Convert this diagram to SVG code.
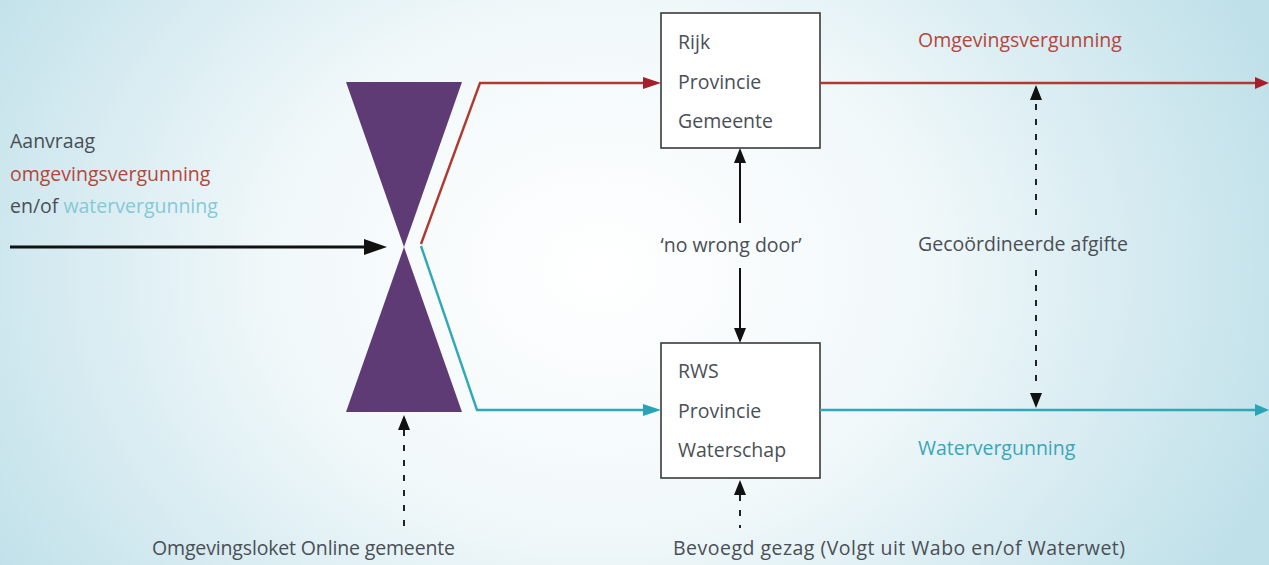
<svg xmlns="http://www.w3.org/2000/svg" width="1269" height="565" viewBox="0 0 1269 565">
  <defs>
    <radialGradient id="bg" cx="600" cy="270" r="720" gradientUnits="userSpaceOnUse" gradientTransform="translate(600 270) scale(1 0.8) translate(-600 -270)">
      <stop offset="0" stop-color="#ffffff"/>
      <stop offset="0.45" stop-color="#f1f8fa"/>
      <stop offset="1" stop-color="#bfe0e9"/>
    </radialGradient>
  </defs>
  <style>
    text { font-family: "Open Sans", "Lato", "DejaVu Sans", sans-serif; font-size: 19.5px; fill: #4a4f55; }
    .box { fill: #ffffff; stroke: #3a3a3a; stroke-width: 1.6; }
    .red { fill: #b4473b; }
    .cyan { fill: #3aa6b6; }
    .lcyan { fill: #86c8d6; }
    .redline { fill: none; stroke: #b03a32; stroke-width: 2.4; }
    .cyanline { fill: none; stroke: #2fa8b8; stroke-width: 2.4; }
    .solid { fill: none; stroke: #111; stroke-width: 2; }
    .dash { fill: none; stroke: #222; stroke-width: 2; stroke-dasharray: 6 9; }
  </style>

  <rect width="1269" height="565" fill="url(#bg)"/>

  <g id="input-label">
    <text x="10" y="148">Aanvraag</text>
    <text x="10" y="181" class="red">omgevingsvergunning</text>
    <text x="10" y="213">en/of <tspan class="lcyan">watervergunning</tspan></text>
  </g>

  <g id="hourglass">
    <polygon points="346,82 462,82 404,247" fill="#5e3b75"/>
    <polygon points="404,247 346,412 462,412" fill="#5e3b75"/>
  </g>

  <g id="box-omgeving">
    <rect class="box" x="661" y="13" width="159" height="135"/>
    <text x="678" y="49">Rijk</text>
    <text x="678" y="89">Provincie</text>
    <text x="678" y="128">Gemeente</text>
  </g>

  <g id="box-water">
    <rect class="box" x="661" y="343" width="159" height="135"/>
    <text x="678" y="378">RWS</text>
    <text x="678" y="418">Provincie</text>
    <text x="678" y="457">Waterschap</text>
  </g>

  <g id="labels">
    <text x="918" y="47" class="red">Omgevingsvergunning</text>
    <text x="918" y="455" class="cyan">Watervergunning</text>
    <text x="731" y="252" text-anchor="middle">‘no wrong door’</text>
    <text x="1023" y="251" text-anchor="middle">Gecoördineerde afgifte</text>
    <text x="152" y="555" textLength="303" lengthAdjust="spacing">Omgevingsloket Online gemeente</text>
    <text x="673" y="555" textLength="452" lengthAdjust="spacing">Bevoegd gezag (Volgt uit Wabo en/of Waterwet)</text>
  </g>

  <g id="connectors">
    <line x1="10" y1="247" x2="366" y2="247" stroke="#111" stroke-width="3"/>
    <polygon points="364,239 387,247 364,255" fill="#111"/>

    <polyline class="redline" points="421,244 480,83 645,83"/>
    <polygon points="643,77 661,83 643,89" fill="#a51e2b"/>
    <line class="redline" x1="820" y1="83" x2="1258" y2="83"/>
    <polygon points="1255,77 1269,83 1255,89" fill="#a51e2b"/>

    <polyline class="cyanline" points="421,246 477,410 645,410"/>
    <polygon points="643,404 661,410 643,416" fill="#2aa3b3"/>
    <line class="cyanline" x1="820" y1="410" x2="1258" y2="410"/>
    <polygon points="1255,404 1269,410 1255,416" fill="#2aa3b3"/>

    <line class="solid" x1="740" y1="160" x2="740" y2="223"/>
    <polygon points="734,163 740,148 746,163" fill="#111"/>
    <line class="solid" x1="740" y1="268" x2="740" y2="331"/>
    <polygon points="734,328 740,343 746,328" fill="#111"/>

    <line class="dash" x1="1036" y1="104" x2="1036" y2="224"/>
    <polygon points="1030,100 1036,85 1042,100" fill="#111"/>
    <line class="dash" x1="1036" y1="270" x2="1036" y2="390"/>
    <polygon points="1030,393 1036,408 1042,393" fill="#111"/>

    <line class="dash" x1="404" y1="430" x2="404" y2="528"/>
    <polygon points="398,430 404,415 410,430" fill="#111"/>
    <line class="dash" x1="740" y1="495" x2="740" y2="528"/>
    <polygon points="734,495 740,480 746,495" fill="#111"/>
  </g>
</svg>
